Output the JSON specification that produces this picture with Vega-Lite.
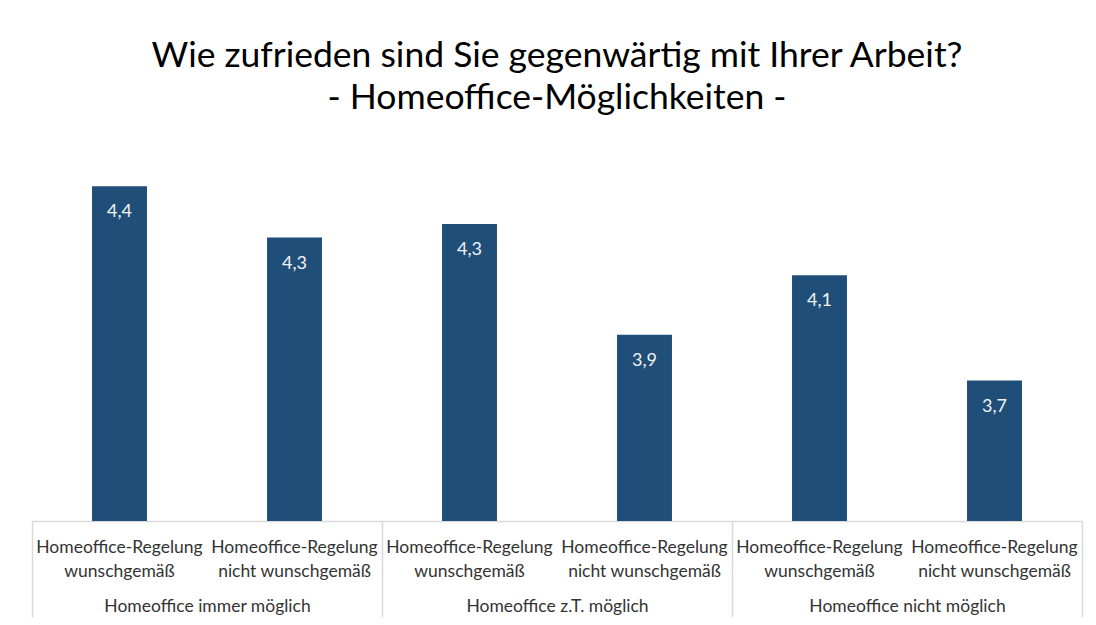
{
  "$schema": "https://vega.github.io/schema/vega-lite/v6.json",
  "width": 1050,
  "height": 378,
  "autosize": {"type": "none"},
  "padding": {"left": 32, "top": 143, "right": 14, "bottom": 104},
  "background": "white",
  "title": {
    "text": ["Wie zufrieden sind Sie gegenwärtig mit Ihrer Arbeit?", "- Homeoffice-Möglichkeiten -"],
    "fontSize": 35.5,
    "font": "Lato",
    "fontWeight": "normal",
    "color": "#000000",
    "lineHeight": 42,
    "anchor": "middle",
    "offset": 27
  },
  "data": {
    "values": [
      {"kategorie": "Homeoffice-Regelung|wunschgemäß|immer", "gruppe": "Homeoffice immer möglich", "wert": 4.44, "label": "4,4"},
      {"kategorie": "Homeoffice-Regelung|nicht wunschgemäß|immer", "gruppe": "Homeoffice immer möglich", "wert": 4.25, "label": "4,3"},
      {"kategorie": "Homeoffice-Regelung|wunschgemäß|zT", "gruppe": "Homeoffice z.T. möglich", "wert": 4.30, "label": "4,3"},
      {"kategorie": "Homeoffice-Regelung|nicht wunschgemäß|zT", "gruppe": "Homeoffice z.T. möglich", "wert": 3.89, "label": "3,9"},
      {"kategorie": "Homeoffice-Regelung|wunschgemäß|nicht", "gruppe": "Homeoffice nicht möglich", "wert": 4.11, "label": "4,1"},
      {"kategorie": "Homeoffice-Regelung|nicht wunschgemäß|nicht", "gruppe": "Homeoffice nicht möglich", "wert": 3.72, "label": "3,7"}
    ]
  },
  "config": {"view": {"stroke": null}, "font": "Lato"},
  "layer": [
    {
      "encoding": {
        "x": {
          "field": "kategorie", "type": "nominal", "sort": null,
          "scale": {"paddingInner": 0.686, "paddingOuter": 0.343},
          "axis": {
            "orient": "bottom", "title": null, "ticks": false, "domain": true,
            "domainColor": "#d9d9d9", "domainWidth": 1.5, "labelAngle": 0,
            "labelPadding": 17, "labelFontSize": 17.5, "labelLineHeight": 24,
            "labelColor": "#333333", "labelLimit": 0,
            "labelExpr": "[split(datum.label, '|')[0], split(datum.label, '|')[1]]"
          }
        },
        "y": {"field": "wert", "type": "quantitative", "scale": {"domain": [3.2, 4.6], "zero": false, "nice": false}, "axis": null}
      },
      "layer": [
        {
          "mark": {"type": "bar", "color": "#1f4e79"},
          "encoding": {"y2": {"datum": 3.2}}
        },
        {
          "mark": {"type": "text", "color": "#f2f2f2", "dy": 26, "fontSize": 18, "baseline": "middle"},
          "encoding": {"text": {"field": "label"}}
        }
      ]
    },
    {
      "mark": {"type": "rule", "opacity": 0},
      "encoding": {
        "x": {
          "field": "gruppe", "type": "nominal", "sort": null,
          "scale": {"paddingInner": 0, "paddingOuter": 0},
          "axis": {
            "orient": "bottom", "title": null, "domain": false, "ticks": true,
            "tickBand": "extent", "tickSize": 96, "tickColor": "#d9d9d9", "tickWidth": 1.5,
            "labelAngle": 0, "labelPadding": -20, "labelFontSize": 17.5,
            "labelColor": "#333333", "labelLimit": 0
          }
        }
      }
    }
  ],
  "resolve": {"scale": {"x": "independent"}, "axis": {"x": "independent"}}
}
